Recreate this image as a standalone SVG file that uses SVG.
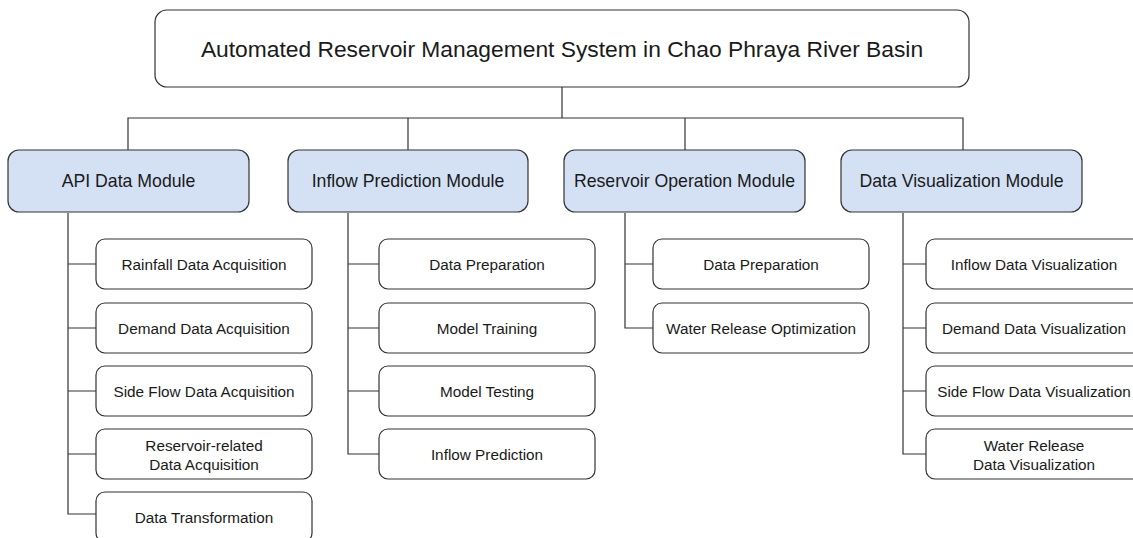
<svg xmlns="http://www.w3.org/2000/svg" width="1133" height="538" viewBox="0 0 1133 538">
<style>
.box{fill:#ffffff;stroke:#333333;stroke-width:1.2}
.mod{fill:#d4e1f5;stroke:#333333;stroke-width:1.2}
.ln{fill:none;stroke:#333333;stroke-width:1.2}
text{font-family:"Liberation Sans",Arial,sans-serif;fill:#1a1a1a;text-anchor:middle;dominant-baseline:central}
.t0{font-size:22.8px}
.t1{font-size:17.7px}
.t2{font-size:15.3px}
</style>
<rect width="1133" height="538" fill="#ffffff"/>
<g id="connectors">
<path class="ln" d="M562 87V118M128 150V118H963V150M408 118V150M685 118V150"/>
<path class="ln" d="M68 213V514H96M68 264H96M68 328H96M68 391H96M68 454H96"/>
<path class="ln" d="M348 213V454H379M348 264H379M348 328H379M348 391H379"/>
<path class="ln" d="M625 213V328H653M625 264H653"/>
<path class="ln" d="M903 213V454H926M903 264H926M903 328H926M903 391H926"/>
</g>
<g id="root"><rect class="box" x="155" y="10" width="814" height="77" rx="12"/><text class="t0" x="562" y="48.5">Automated Reservoir Management System in Chao Phraya River Basin</text></g>
<g id="api"><rect class="mod" x="8" y="150" width="241" height="62" rx="11"/><text class="t1" x="128.5" y="181">API Data Module</text></g>
<g id="inflow"><rect class="mod" x="288" y="150" width="240" height="62" rx="11"/><text class="t1" x="408" y="181">Inflow Prediction Module</text></g>
<g id="reservoir"><rect class="mod" x="564" y="150" width="241" height="62" rx="11"/><text class="t1" x="684.5" y="181">Reservoir Operation Module</text></g>
<g id="datavis"><rect class="mod" x="841" y="150" width="241" height="62" rx="11"/><text class="t1" x="961.5" y="181">Data Visualization Module</text></g>

<g id="api1"><rect class="box" x="96" y="239" width="216" height="50" rx="9"/><text class="t2" x="204" y="264">Rainfall Data Acquisition</text></g>
<g id="api2"><rect class="box" x="96" y="303" width="216" height="50" rx="9"/><text class="t2" x="204" y="328">Demand Data Acquisition</text></g>
<g id="api3"><rect class="box" x="96" y="366" width="216" height="50" rx="9"/><text class="t2" x="204" y="391">Side Flow Data Acquisition</text></g>
<g id="api4"><rect class="box" x="96" y="429" width="216" height="50" rx="9"/><text class="t2" x="204" y="445">Reservoir-related</text><text class="t2" x="204" y="464">Data Acquisition</text></g>
<g id="api5"><rect class="box" x="96" y="492" width="216" height="50" rx="9"/><text class="t2" x="204" y="517">Data Transformation</text></g>

<g id="inf1"><rect class="box" x="379" y="239" width="216" height="50" rx="9"/><text class="t2" x="487" y="264">Data Preparation</text></g>
<g id="inf2"><rect class="box" x="379" y="303" width="216" height="50" rx="9"/><text class="t2" x="487" y="328">Model Training</text></g>
<g id="inf3"><rect class="box" x="379" y="366" width="216" height="50" rx="9"/><text class="t2" x="487" y="391">Model Testing</text></g>
<g id="inf4"><rect class="box" x="379" y="429" width="216" height="50" rx="9"/><text class="t2" x="487" y="454">Inflow Prediction</text></g>

<g id="res1"><rect class="box" x="653" y="239" width="216" height="50" rx="9"/><text class="t2" x="761" y="264">Data Preparation</text></g>
<g id="res2"><rect class="box" x="653" y="303" width="216" height="50" rx="9"/><text class="t2" x="761" y="328">Water Release Optimization</text></g>

<g id="vis1"><rect class="box" x="926" y="239" width="216" height="50" rx="9"/><text class="t2" x="1034" y="264">Inflow Data Visualization</text></g>
<g id="vis2"><rect class="box" x="926" y="303" width="216" height="50" rx="9"/><text class="t2" x="1034" y="328">Demand Data Visualization</text></g>
<g id="vis3"><rect class="box" x="926" y="366" width="216" height="50" rx="9"/><text class="t2" x="1034" y="391">Side Flow Data Visualization</text></g>
<g id="vis4"><rect class="box" x="926" y="429" width="216" height="50" rx="9"/><text class="t2" x="1034" y="445">Water Release</text><text class="t2" x="1034" y="464">Data Visualization</text></g>
</svg>
